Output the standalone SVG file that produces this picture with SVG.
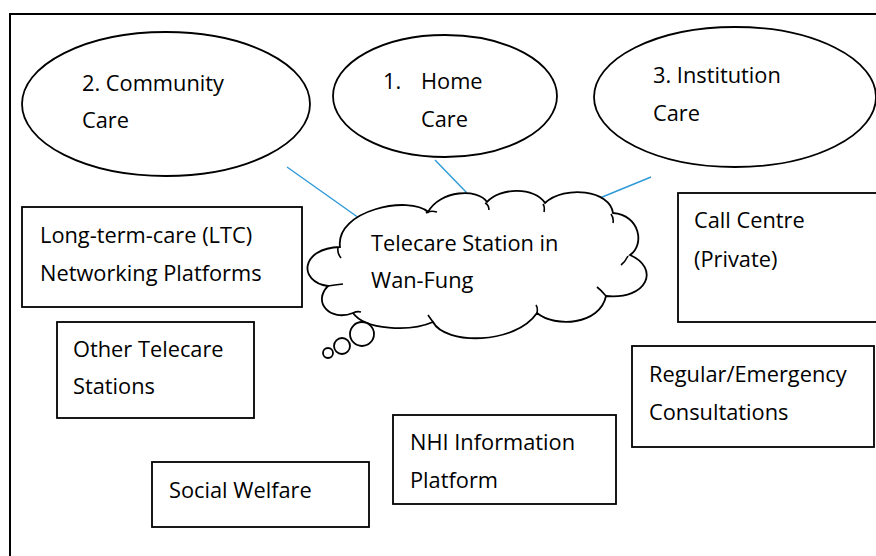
<svg xmlns="http://www.w3.org/2000/svg" width="876" height="556" viewBox="0 0 876 556">
<style>
.shape{fill:#fff;stroke:#000;stroke-width:1.8}
.frame{fill:none;stroke:#000;stroke-width:2}
.lbl{font-family:"Open Sans","Liberation Sans",sans-serif;font-size:21.8px;fill:#000}
.conn{stroke:#2E9AD8;stroke-width:1.4;fill:none}
.cusp{fill:none;stroke:#000;stroke-width:1.6}
</style>
<rect width="876" height="556" fill="#fff"/>
<rect class="frame" x="10" y="14" width="900" height="600"/>
<g id="community-care">
<ellipse class="shape" cx="166" cy="104" rx="144" ry="72"/>
<text class="lbl" x="82" y="91">2. Community</text>
<text class="lbl" x="82" y="128">Care</text>
</g>
<g id="home-care">
<ellipse class="shape" cx="445" cy="96" rx="112" ry="61"/>
<text class="lbl" x="383" y="89">1.</text>
<text class="lbl" x="421" y="89">Home</text>
<text class="lbl" x="421" y="127">Care</text>
</g>
<g id="institution-care">
<ellipse class="shape" cx="735" cy="97" rx="141" ry="70"/>
<text class="lbl" x="653" y="83">3. Institution</text>
<text class="lbl" x="653" y="121">Care</text>
</g>
<g id="connectors">
<line class="conn" x1="287" y1="167" x2="359" y2="218"/>
<line class="conn" x1="435" y1="160" x2="467" y2="193"/>
<line class="conn" x1="651" y1="177" x2="595" y2="200"/>
</g>
<g id="telecare-station">
<path class="shape" d="M340,247 C335,210 410,195 428,212 C440,190 478,188 487,202 C500,187 535,187 545,203 C565,185 610,190 613,213 C640,215 645,245 630,255 C660,268 648,300 606,296 C600,325 555,328 537,313 C515,345 445,345 433,322 C410,332 365,330 353,313 C330,322 312,302 328,286 C298,282 300,248 340,247 Z"/>
<path class="cusp" d="M338,248 Q337,253 341,258 M426,213 Q430,210 437,212 M485,203 Q489,205 489,210 M543,204 Q545,207 544,212 M611,214 Q614,218 613,223 M628,256 Q625,262 621,265 M606,296 Q601,290 597,287 M537,313 Q538,308 536,305 M433,322 Q430,318 428,315 M353,313 Q357,311 361,312 M328,286 Q334,285 343,284"/>
<circle class="shape" cx="362" cy="334" r="12"/>
<circle class="shape" cx="342" cy="346" r="8"/>
<circle class="shape" cx="328" cy="353" r="5"/>
<text class="lbl" x="371" y="251">Telecare Station in</text>
<text class="lbl" x="371" y="288">Wan-Fung</text>
</g>
<g id="ltc-platforms">
<rect class="shape" x="22" y="207" width="280" height="100"/>
<text class="lbl" x="40" y="243">Long-term-care (LTC)</text>
<text class="lbl" x="40" y="281">Networking Platforms</text>
</g>
<g id="other-telecare">
<rect class="shape" x="57" y="322" width="197" height="96"/>
<text class="lbl" x="73" y="357">Other Telecare</text>
<text class="lbl" x="73" y="394">Stations</text>
</g>
<g id="call-centre">
<rect class="shape" x="678" y="193" width="220" height="129"/>
<text class="lbl" x="694" y="228">Call Centre</text>
<text class="lbl" x="694" y="267">(Private)</text>
</g>
<g id="consultations">
<rect class="shape" x="632" y="346" width="242" height="101"/>
<text class="lbl" x="649" y="382">Regular/Emergency</text>
<text class="lbl" x="649" y="420">Consultations</text>
</g>
<g id="nhi-platform">
<rect class="shape" x="393" y="415" width="223" height="89"/>
<text class="lbl" x="410" y="450">NHI Information</text>
<text class="lbl" x="410" y="488">Platform</text>
</g>
<g id="social-welfare">
<rect class="shape" x="152" y="462" width="217" height="65"/>
<text class="lbl" x="169" y="498">Social Welfare</text>
</g>
</svg>
